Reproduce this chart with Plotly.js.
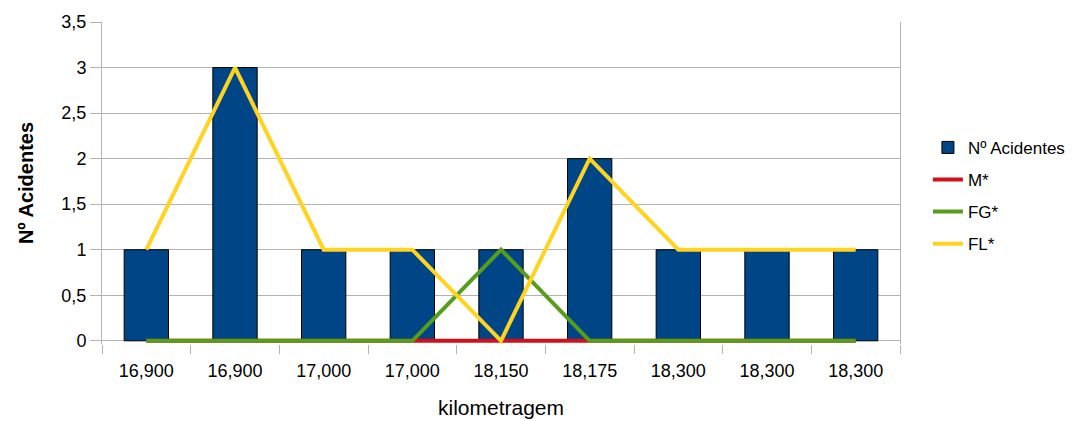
<!DOCTYPE html>
<html>
<head>
<meta charset="utf-8">
<script src="https://cdn.plot.ly/plotly-3.0.1.min.js"></script>
<style>html,body{margin:0;padding:0;background:#fff;}#chart{width:1082px;height:421px;}</style>
</head>
<body>
<div id="chart"></div>
<script>
// Data
const tickLabels = ["16,900", "16,900", "17,000", "17,000", "18,150", "18,175", "18,300", "18,300", "18,300"];
const acidentes = [1, 3, 1, 1, 1, 2, 1, 1, 1];
const mSeries  = [0, 0, 0, 0, 0, 0, 0, 0, 0];
const fgSeries = [0, 0, 0, 0, 1, 0, 0, 0, 0];
const flSeries = [1, 3, 1, 1, 0, 2, 1, 1, 1];
const seriesNames = ["Nº Acidentes", "M*", "FG*", "FL*"];

const xPos = tickLabels.map((_, i) => i);
const boundaries = tickLabels.map((_, i) => i - 0.5).concat([tickLabels.length - 0.5]);

const FONT = "Liberation Sans, Arial, sans-serif";
const GRID = "#b3b3b3";

const traces = [
  {type: "bar", x: xPos, y: acidentes, name: seriesNames[0], width: 0.5,
   marker: {color: "#004586", line: {color: "#000000", width: 1}}, legendgroup: "a"},
  {type: "scatter", mode: "lines", x: xPos, y: mSeries, name: seriesNames[1], cliponaxis: false,
   line: {color: "#d0101a", width: 4}, legendgroup: "b"},
  {type: "scatter", mode: "lines", x: xPos, y: fgSeries, name: seriesNames[2], cliponaxis: false,
   line: {color: "#579d1c", width: 4}, legendgroup: "c"},
  {type: "scatter", mode: "lines", x: xPos, y: flSeries, name: seriesNames[3], cliponaxis: false,
   line: {color: "#ffd320", width: 4}, legendgroup: "d"},
  // invisible helper to activate the boundary-tick axis
  {type: "scatter", mode: "markers", x: [xPos[0]], y: [0], xaxis: "x2", showlegend: false,
   hoverinfo: "skip", marker: {opacity: 0}}
];

const layout = {
  width: 1082, height: 421,
  margin: {l: 102, r: 174, t: 22, b: 77},
  paper_bgcolor: "#ffffff", plot_bgcolor: "#ffffff",
  separators: ", ",
  font: {family: FONT, size: 17, color: "#000000"},
  showlegend: true,
  legend: {x: 1.035, y: 0.665, xanchor: "left", yanchor: "top",
           font: {family: FONT, size: 17, color: "#000"}, tracegroupgap: 7,
           itemwidth: 30, bgcolor: "rgba(0,0,0,0)"},
  xaxis: {
    range: [-0.5, tickLabels.length - 0.5], tickmode: "array", tickvals: xPos, ticktext: tickLabels,
    ticks: "outside", ticklen: 10, tickcolor: "rgba(0,0,0,0)", showgrid: false, zeroline: false,
    showline: false, tickfont: {family: FONT, size: 18, color: "#000"},
    title: {text: "kilometragem", font: {family: FONT, size: 21, color: "#000"}, standoff: 20},
    fixedrange: true
  },
  xaxis2: {
    overlaying: "x", matches: "x", side: "bottom", anchor: "y",
    range: [-0.5, tickLabels.length - 0.5], tickmode: "array", tickvals: boundaries,
    showticklabels: false, ticks: "outside", ticklen: 9, tickcolor: GRID, tickwidth: 1,
    showgrid: false, zeroline: false, showline: false
  },
  yaxis: {
    range: [-0.035, 3.5], tickmode: "linear", dtick: 0.5, tick0: 0, ticks: "outside", ticklen: 11, tickcolor: GRID,
    showgrid: true, gridcolor: GRID, gridwidth: 1, zeroline: false,
    showline: true, linecolor: GRID, linewidth: 1, mirror: true,
    tickfont: {family: FONT, size: 18, color: "#000"},
    title: {text: "<b>Nº Acidentes</b>", font: {family: FONT, size: 20, color: "#000"}, standoff: 22},
    fixedrange: true
  }
};

Plotly.newPlot("chart", traces, layout, {displayModeBar: false, staticPlot: true});
</script>
</body>
</html>
